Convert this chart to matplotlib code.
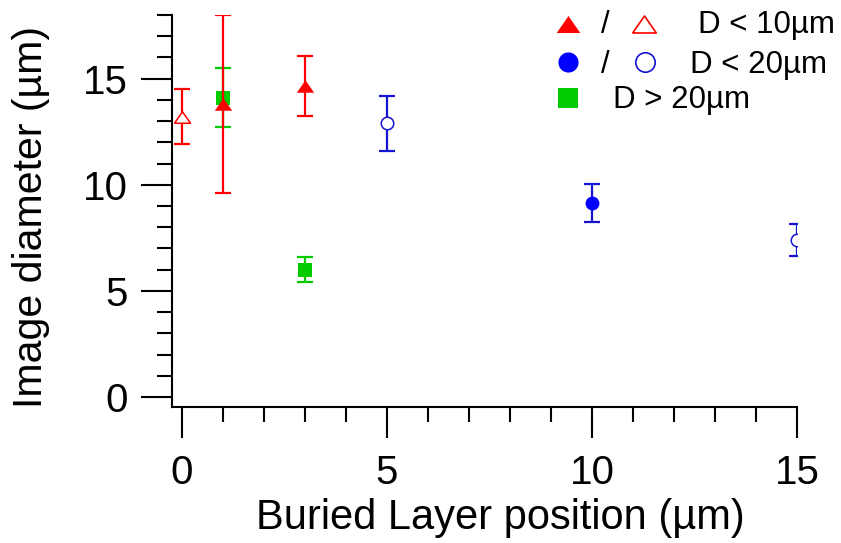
import matplotlib
matplotlib.use("Agg")
import matplotlib.pyplot as plt

# ---- data ----
red_open_x = [0]
red_open_y = [13.2]
red_open_err = [1.3]

red_fill_x = [1, 3]
red_fill_y = [13.8, 14.65]
red_fill_err = [4.2, 1.4]

green_x = [1, 3]
green_y = [14.1, 6.0]
green_err = [1.4, 0.6]

blue_open_x = [5, 15]
blue_open_y = [12.9, 7.4]
blue_open_err = [1.3, 0.75]

blue_fill_x = [10]
blue_fill_y = [9.15]
blue_fill_err = [0.9]

legend_labels = ["D < 10\u00b5m", "D < 20\u00b5m", "D > 20\u00b5m"]
x_label = "Buried Layer position (\u00b5m)"
y_label = "Image diameter (\u00b5m)"

plt.rcParams['font.family'] = ['Liberation Sans', 'DejaVu Sans']

RED = "#FF0000"
BLUE = "#0000FF"
BLUE_E = "#1414D2"
GREEN = "#00CC00"

TRI = [(-1, -0.72), (1, -0.72), (0, 0.72), (-1, -0.72)]

fig = plt.figure(figsize=(8.41, 5.43), dpi=100)
ax = fig.add_axes([172/841, 1 - 407/543, (797-172)/841, (407-15)/543])

ekw = dict(fmt='none', elinewidth=1.6, capthick=1.6, capsize=5.5)
ax.errorbar(green_x, green_y, yerr=green_err, ecolor=GREEN, zorder=2, **ekw)
ax.plot(green_x, green_y, linestyle='none', marker='s', ms=10, color=GREEN, mew=0, zorder=3)
ax.errorbar(red_open_x, red_open_y, yerr=red_open_err, ecolor=RED, zorder=4, **ekw)
ax.plot(red_open_x, red_open_y, linestyle='none', marker=TRI, ms=11.5, mfc='white', mec=RED, mew=1.1, zorder=5)
ax.errorbar(red_fill_x, red_fill_y, yerr=red_fill_err, ecolor=RED, zorder=4, **ekw)
ax.plot(red_fill_x, red_fill_y, linestyle='none', marker=TRI, ms=12.5, color=RED, mew=0, zorder=5)
ax.errorbar(blue_open_x, blue_open_y, yerr=blue_open_err, ecolor=BLUE_E, zorder=2, **ekw)
ax.plot(blue_open_x, blue_open_y, linestyle='none', marker='o', ms=9, mfc='white', mec=BLUE_E, mew=1.1, zorder=3)
ax.errorbar(blue_fill_x, blue_fill_y, yerr=blue_fill_err, ecolor=BLUE_E, zorder=2, **ekw)
ax.plot(blue_fill_x, blue_fill_y, linestyle='none', marker='o', ms=10, color=BLUE, mew=0, zorder=3)

ax.set_xlim(-0.24, 15)
ax.set_ylim(-0.47, 18.0)

for s in ['top', 'right']:
    ax.spines[s].set_visible(False)
for s in ['left', 'bottom']:
    ax.spines[s].set_linewidth(1.5)

ax.set_xticks([0, 5, 10, 15])
ax.set_xticks(range(0, 16), minor=True)
ax.set_yticks([0, 5, 10, 15])
ax.set_yticks(range(0, 19), minor=True)
ax.tick_params(which='major', direction='out', length=22, width=1.5, labelsize=29)
ax.tick_params(which='minor', direction='out', length=11, width=1.5)
ax.tick_params(axis='x', which='major', pad=12)
ax.tick_params(axis='y', which='major', pad=10)

ax.set_xlabel(x_label, fontsize=30)
ax.set_ylabel(y_label, fontsize=29.5)
ax.xaxis.set_label_coords((500-172)/625, (407-518)/392)
ax.xaxis.label.set_va('center')
ax.yaxis.set_label_coords((31-172)/625, (407-217)/392)
ax.yaxis.label.set_va('center')

# legend (manual, figure-fraction coordinates)
tr = fig.transFigure
def fx(px): return px / 841
def fy(py): return 1 - py / 543
kw = dict(transform=tr, clip_on=False, linestyle='none')
fs = 22.5
fig.add_artist(plt.Line2D([fx(568)], [fy(24)], marker=TRI, ms=17, color=RED, mew=0, **kw))
fig.text(fx(605), fy(33), "/", fontsize=fs, ha='center', va='baseline')
fig.add_artist(plt.Line2D([fx(644)], [fy(24)], marker=TRI, ms=17, mfc='white', mec=RED, mew=1.2, **kw))
fig.text(fx(698), fy(33), legend_labels[0], fontsize=fs, ha='left', va='baseline')

fig.add_artist(plt.Line2D([fx(568)], [fy(62)], marker='o', ms=14.5, color=BLUE, mew=0, **kw))
fig.text(fx(605), fy(73), "/", fontsize=fs, ha='center', va='baseline')
fig.add_artist(plt.Line2D([fx(645)], [fy(62)], marker='o', ms=14, mfc='white', mec=BLUE_E, mew=1.2, **kw))
fig.text(fx(690), fy(73), legend_labels[1], fontsize=fs, ha='left', va='baseline')

fig.add_artist(plt.Line2D([fx(568)], [fy(98)], marker='s', ms=14.5, color=GREEN, mew=0, **kw))
fig.text(fx(613), fy(108), legend_labels[2], fontsize=fs, ha='left', va='baseline')

fig.savefig("out.png", dpi=100)
